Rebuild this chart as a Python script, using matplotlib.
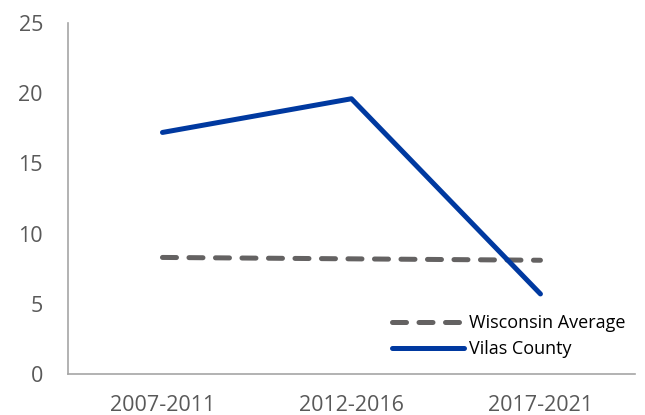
import matplotlib
matplotlib.use("Agg")
import matplotlib.pyplot as plt

PERIODS = ["2007-2011", "2012-2016", "2017-2021"]
WISCONSIN_AVG = [8.3, 8.2, 8.1]
VILAS_COUNTY = [17.2, 19.6, 5.7]
Y_TICKS = [0, 5, 10, 15, 20, 25]

plt.rcParams["font.family"] = ["Open Sans", "DejaVu Sans"]

fig = plt.figure(figsize=(6.45, 4.15), dpi=100)
ax = fig.add_axes([0.1054, 0.0988, 0.879, 0.846])

x = list(range(len(PERIODS)))
ax.plot(x, WISCONSIN_AVG, color="#646262", linewidth=3.6, linestyle=(0, (2.8, 2.5)),
        dash_capstyle="round", solid_capstyle="round", label="Wisconsin Average")
ax.plot(x, VILAS_COUNTY, color="#0039A0", linewidth=3.6, solid_capstyle="round",
        label="Vilas County")

ax.set_xlim(-0.5, 2.5)
ax.set_ylim(0, 25)
ax.set_xticks(x)
ax.set_xticklabels(PERIODS)
ax.set_yticks(Y_TICKS)
ax.tick_params(axis="both", length=0, labelsize=15.5, colors="#595959")
ax.tick_params(axis="x", pad=15)
ax.tick_params(axis="y", pad=18)

for side in ("top", "right"):
    ax.spines[side].set_visible(False)
for side in ("left", "bottom"):
    ax.spines[side].set_color("#a6a6a6")
    ax.spines[side].set_linewidth(1.2)

leg = ax.legend(loc="lower right", frameon=False, fontsize=13, handlelength=4.0,
                handletextpad=0.3, labelspacing=0.45, borderaxespad=0.1,
                bbox_to_anchor=(1.0, 0.02))
for t in leg.get_texts():
    t.set_color("black")

fig.savefig("out.png", dpi=100)
